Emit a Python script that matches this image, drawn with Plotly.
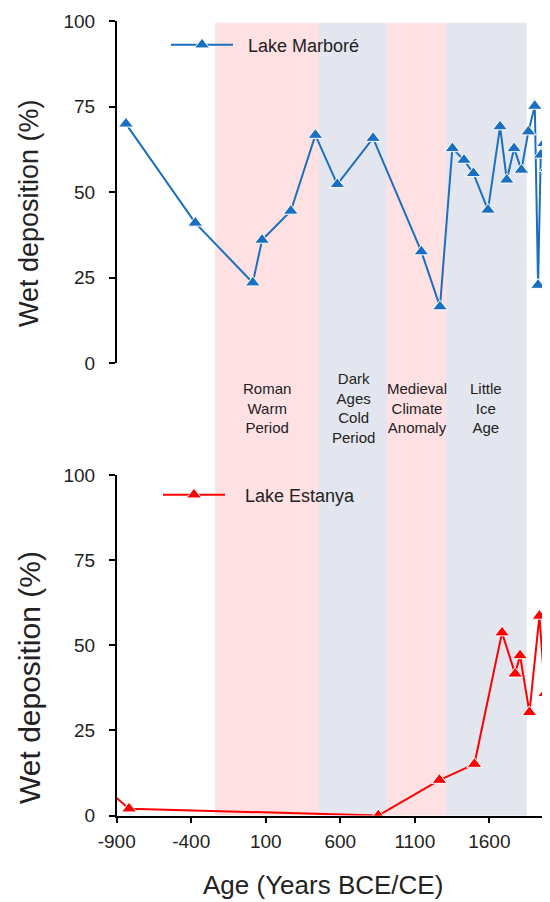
import plotly.graph_objects as go

# Lake Marboré (top panel)
marbore_age = [-838, -373, 13, 75, 268, 433, 580, 820, 1144, 1269, 1352, 1430, 1493,
               1591, 1672, 1717, 1766, 1815, 1862, 1905, 1927, 1945, 1967, 1985, 1996]
marbore_wet = [70, 41, 23.5, 36, 44.5, 66.7, 52.3, 65.8, 32.6, 16.5, 62.8, 59.4, 55.5,
               44.8, 69.2, 53.6, 62.8, 56.5, 67.7, 75.2, 22.8, 60.9, 64.3, 57, 49.7]

# Lake Estanya (bottom panel)
estanya_age = [-950, -817, 855, 1265, 1500, 1685, 1773, 1806, 1869, 1936, 1974, 2003]
estanya_wet = [7, 2, 0, 10.4, 15.1, 53.7, 41.6, 47, 30.3, 58.6, 35.9, 38.8]

# climate periods
period_names = ["Roman<br>Warm<br>Period", "Dark<br>Ages<br>Cold<br>Period",
                "Medieval<br>Climate<br>Anomaly", "Little<br>Ice<br>Age"]
period_start = [-240, 457, 914, 1310]
period_end = [457, 914, 1310, 1850]
period_color = ["rgba(255,225,228,1)", "rgba(227,230,238,1)",
                "rgba(255,225,228,1)", "rgba(227,230,238,1)"]

x_ticks = [-900, -400, 100, 600, 1100, 1600]
x_tick_labels = ["-900", "-400", "100", "600", "1100", "1600"]
y_ticks = [0, 25, 50, 75, 100]

# the page body adds an 8px offset, so the figure is 8px smaller each way
OFF = 8
W, H = 550 - OFF, 902 - OFF

def px(pix):
    # page column -> paper fraction
    return (pix - OFF) / W

def py(pix):
    # page row -> paper fraction
    return (H - (pix - OFF)) / H

BLUE = "#1a6fc0"
RED = "#ff0000"
FONT = "Liberation Sans, Arial, sans-serif"
TXT = "#222"
SP = "\u00a0"

fig = go.Figure()
fig.add_trace(go.Scatter(x=marbore_age, y=marbore_wet, name=SP * 2 + "Lake Marboré", mode="lines+markers",
                         line=dict(color=BLUE, width=2),
                         marker=dict(symbol="triangle-up", size=13, color=BLUE, line=dict(color="white", width=1)),
                         xaxis="x2", yaxis="y2", legend="legend"))
fig.add_trace(go.Scatter(x=estanya_age, y=estanya_wet, name=SP * 3 + "Lake Estanya", mode="lines+markers",
                         line=dict(color=RED, width=2),
                         marker=dict(symbol="triangle-up", size=13, color=RED, line=dict(color="white", width=1)),
                         xaxis="x", yaxis="y", legend="legend2"))

# shaded periods through both panels
for s, e, c in zip(period_start, period_end, period_color):
    fig.add_shape(type="rect", xref="x", yref="paper", x0=s, x1=e, y0=py(815.5), y1=py(22.7),
                  fillcolor=c, line=dict(width=0), layer="below")
for s, e, name in zip(period_start, period_end, period_names):
    fig.add_annotation(x=(s + e) / 2, y=py(408), xref="x", yref="paper", text=name, showarrow=False,
                       font=dict(size=15, color=TXT, family=FONT), yanchor="middle", xanchor="center")

axis_common = dict(showgrid=False, zeroline=False, showline=True, linecolor="black", linewidth=1.5,
                   ticks="outside", ticklen=6, tickwidth=1.5, tickcolor="black", automargin=False,
                   tickfont=dict(size=19, color=TXT, family=FONT))
x_dom = [px(116.7), 1]
x_range = [-900, 2007]

fig.update_layout(
    template="none", showlegend=True,
    width=W, height=H, margin=dict(l=0, r=0, t=0, b=0, autoexpand=False),
    paper_bgcolor="white", plot_bgcolor="rgba(0,0,0,0)",
    font=dict(family=FONT, color=TXT),
    xaxis=dict(domain=x_dom, range=x_range, anchor="y", tickvals=x_ticks, ticktext=x_tick_labels,
               ticklabelstandoff=2, **axis_common),
    yaxis=dict(domain=[py(815.5), py(475)], range=[0, 100], anchor="x", tickvals=y_ticks,
               ticklabelstandoff=10, **axis_common),
    xaxis2=dict(domain=x_dom, range=x_range, anchor="y2", matches="x", visible=False),
    yaxis2=dict(domain=[py(363), py(21.3)], range=[0, 100], anchor="x2", tickvals=y_ticks,
                ticklabelstandoff=10, **axis_common),
    legend=dict(x=px(166), y=py(45), xanchor="left", yanchor="middle", bgcolor="rgba(0,0,0,0)",
                font=dict(size=18, family=FONT, color=TXT), itemwidth=62),
    legend2=dict(x=px(158), y=py(495), xanchor="left", yanchor="middle", bgcolor="rgba(0,0,0,0)",
                 font=dict(size=18, family=FONT, color=TXT), itemwidth=62),
)

# axis titles
fig.add_annotation(x=px(29), y=py(213), xref="paper", yref="paper", text="Wet deposition (%)",
                   textangle=-90, showarrow=False, xanchor="center", yanchor="middle",
                   font=dict(size=27, family=FONT, color=TXT))
fig.add_annotation(x=px(29), y=py(678), xref="paper", yref="paper", text="Wet deposition (%)",
                   textangle=-90, showarrow=False, xanchor="center", yanchor="middle",
                   font=dict(size=30, family=FONT, color=TXT))
fig.add_annotation(x=px(323), y=py(885), xref="paper", yref="paper", text="Age (Years BCE/CE)",
                   showarrow=False, xanchor="center", yanchor="middle",
                   font=dict(size=26, family=FONT, color=TXT))

fig.write_html("out.html")
